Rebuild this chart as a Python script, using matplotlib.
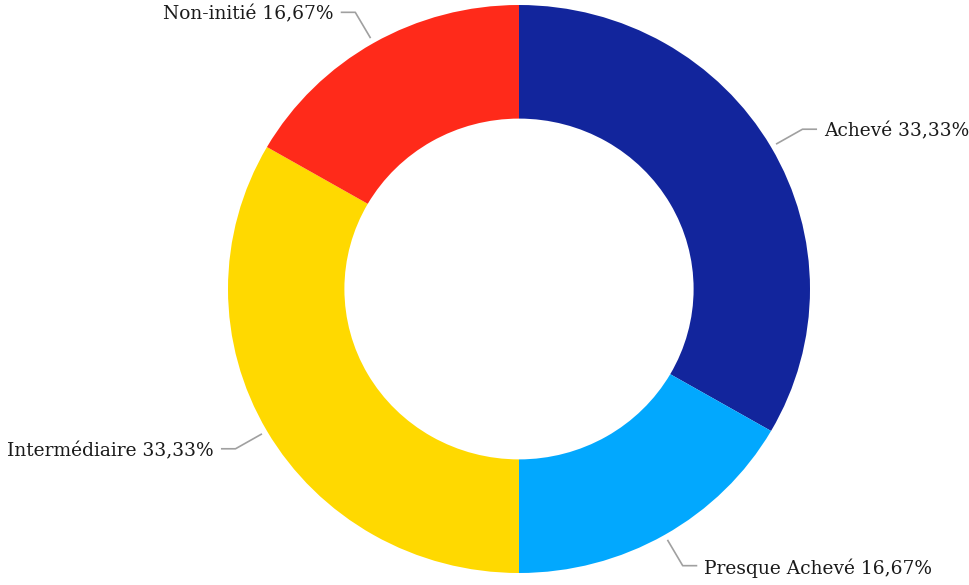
import numpy as np
import matplotlib.pyplot as plt

# Progress states, clockwise from 12 o'clock
labels = ["Achevé", "Presque Achevé", "Intermédiaire", "Non-initié"]
shares = [33.33, 16.67, 33.33, 16.67]
colors = ["#12259c", "#02a8fe", "#ffd900", "#ff2a1a"]


def fmt_pct(v):
    return f"{v:.2f}".replace(".", ",") + "%"


fig = plt.figure(figsize=(9.69, 5.85), dpi=100)
W, H = 969, 585
# ring bounding box in pixels
left, right, top, bottom = 228, 810, 5, 573
ax = fig.add_axes([left / W, (H - bottom) / H, (right - left) / W, (bottom - top) / H])

wedges, _ = ax.pie(shares, colors=colors, startangle=90, counterclock=False,
                   radius=1.0, wedgeprops=dict(width=0.40, linewidth=0))
ax.set_aspect("auto")
ax.set_xlim(-1, 1)
ax.set_ylim(-1, 1)
ax.axis("off")

# leader lines with elbow and label
for w, lab, val in zip(wedges, labels, shares):
    mid = np.deg2rad((w.theta1 + w.theta2) / 2)
    cx, cy = np.cos(mid), np.sin(mid)
    x0, y0 = 1.02 * cx, 1.02 * cy
    x1, y1 = 1.125 * cx, 1.125 * cy
    side = 1 if cx >= 0 else -1
    x2 = x1 + side * 0.05
    ax.plot([x0, x1, x2], [y0, y1, y1], color="#a0a0a0", lw=1.2,
            clip_on=False, solid_capstyle="butt")
    ax.text(x2 + side * 0.024, y1 - 0.008, f"{lab} {fmt_pct(val)}",
            ha="left" if side > 0 else "right", va="center",
            fontsize=13.4, family="DejaVu Serif", color="#1a1a1a", clip_on=False)

fig.savefig("out.png", dpi=100)
